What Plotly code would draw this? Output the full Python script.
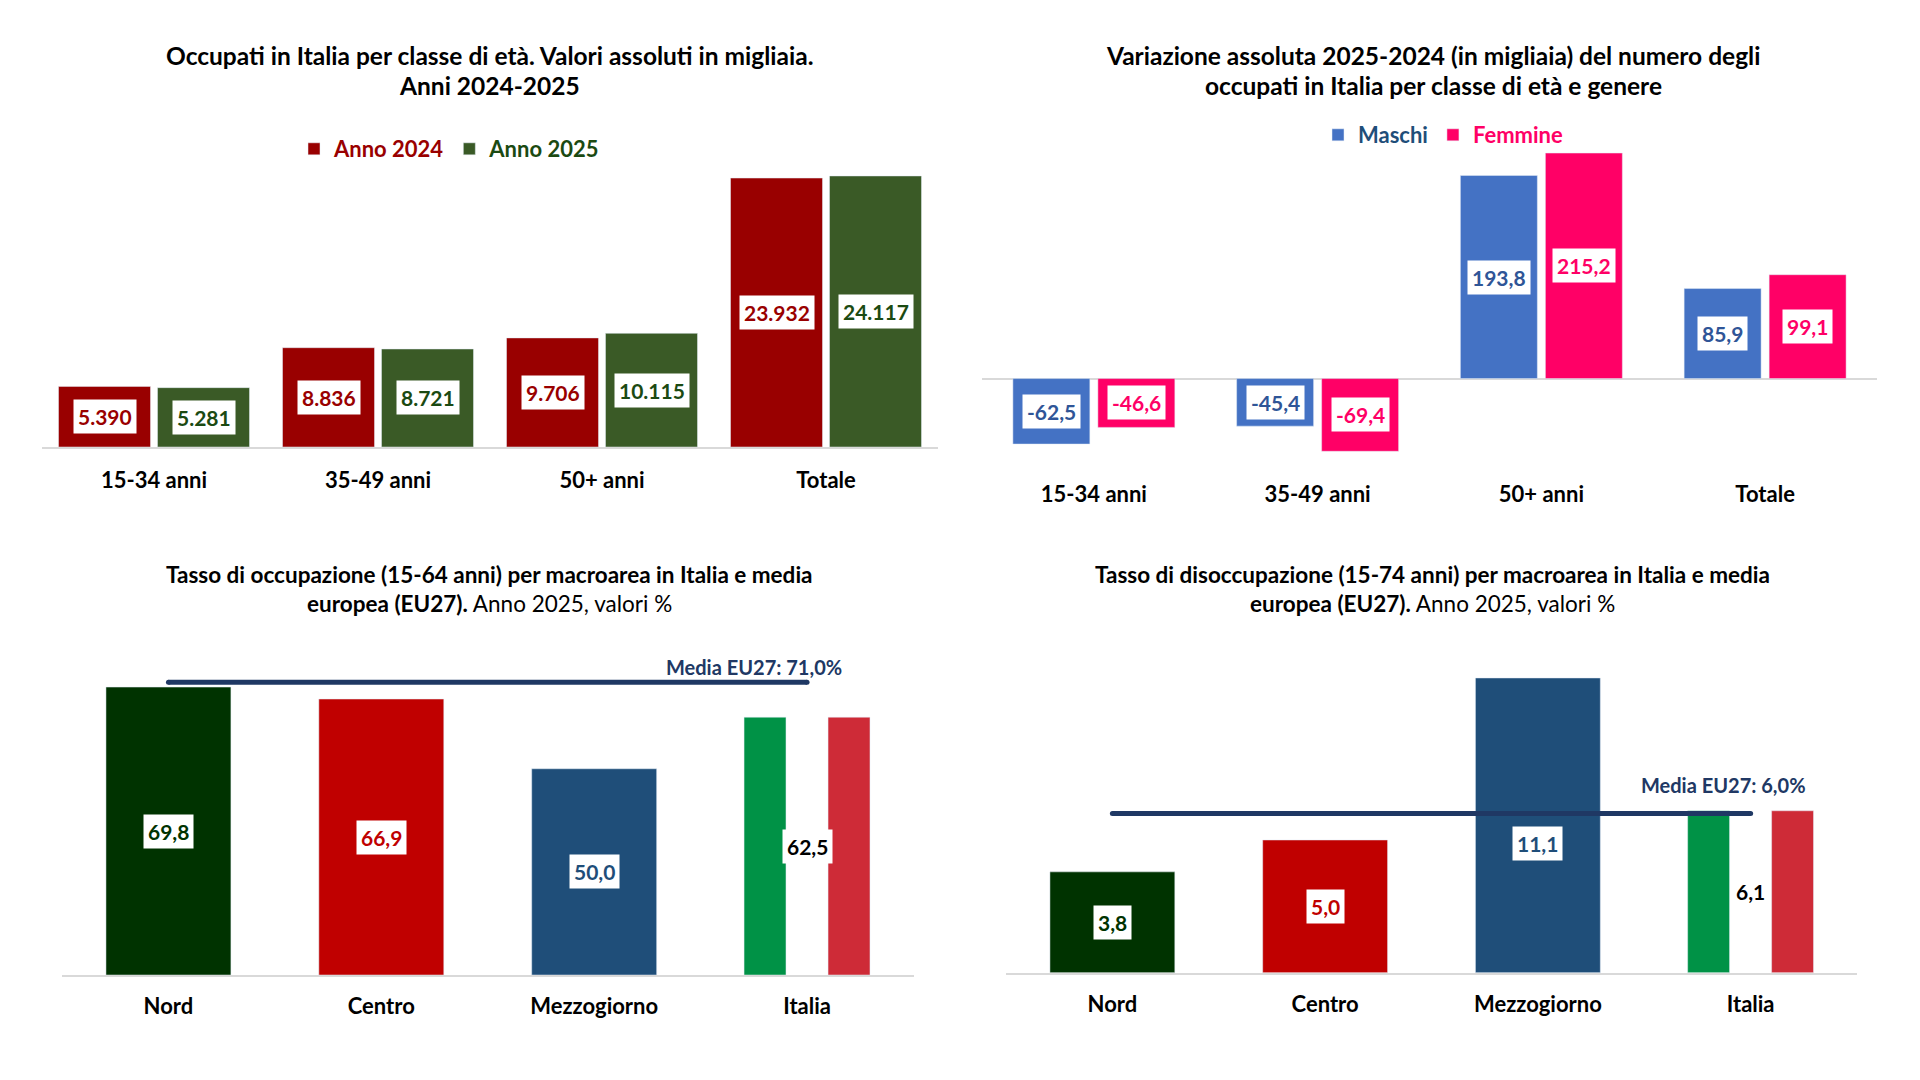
import plotly.graph_objects as go

W, H = 1920, 1080
FONT = "Lato"

# ---------------- data ----------------
eta_cat = ["15-34 anni", "35-49 anni", "50+ anni", "Totale"]
occ_2024 = [5390, 8836, 9706, 23932]
occ_2025 = [5281, 8721, 10115, 24117]

var_maschi = [-62.5, -45.4, 193.8, 85.9]
var_femmine = [-46.6, -69.4, 215.2, 99.1]

aree = ["Nord", "Centro", "Mezzogiorno", "Italia"]
tasso_occ = [69.8, 66.9, 50.0, 62.5]
eu_occ = 71.0
tasso_dis = [3.8, 5.0, 11.1, 6.1]
eu_dis = 6.0

# ---------------- styles ----------------
C2024, C2024_T = "#990000", "#990000"
C2025, C2025_T = "#3A5A26", "#1B4A12"
CM, CM_T = "#4472C4", "#2F5597"
CF, CF_T = "#FF0066", "#FF0066"
C_AREE = ["#003300", "#C00000", "#1F4E79"]
C_AREE_T = ["#003300", "#C00000", "#1F4E79", "#000000"]
C_IT_G, C_IT_R = "#009246", "#CE2B37"
C_EU = "#1F3864"
AXIS_GREY = "#D9D9D9"


def fmt_int(v):
    return f"{v:,}".replace(",", ".")


def fmt_dec(v):
    return f"{v:.1f}".replace(".", ",")


def px_x(p):
    return p / W


def px_y(p):
    return 1 - p / H


fig = go.Figure()

# ---- chart 1: occupati per classe di età ----
fig.add_trace(go.Bar(x=eta_cat, y=occ_2024, offset=-0.4263, width=0.4107,
                     marker_color=C2024, xaxis="x", yaxis="y", legend="legend",
                     name=f"<span style='color:{C2024_T}'>Anno 2024</span>", hoverinfo="skip"))
fig.add_trace(go.Bar(x=eta_cat, y=occ_2025, offset=0.0156, width=0.4107,
                     marker_color=C2025, xaxis="x", yaxis="y", legend="legend",
                     name=f"<span style='color:#1B4A12'>Anno 2025</span>", hoverinfo="skip"))

# ---- chart 2: variazione per genere ----
fig.add_trace(go.Bar(x=eta_cat, y=var_maschi, offset=-0.362, width=0.344,
                     marker_color=CM, xaxis="x2", yaxis="y2", legend="legend2",
                     name="<span style='color:#1F4E79'>Maschi</span>", hoverinfo="skip"))
fig.add_trace(go.Bar(x=eta_cat, y=var_femmine, offset=0.0179, width=0.344,
                     marker_color=CF, xaxis="x2", yaxis="y2", legend="legend2",
                     name=f"<span style='color:{CF_T}'>Femmine</span>", hoverinfo="skip"))

# ---- charts 3 & 4: macroaree ----
for vals, eu, xa, ya in [(tasso_occ, eu_occ, "x3", "y3"), (tasso_dis, eu_dis, "x4", "y4")]:
    fig.add_trace(go.Bar(x=aree[:3], y=vals[:3], offset=-0.2935, width=0.587,
                         marker_color=C_AREE, xaxis=xa, yaxis=ya, showlegend=False,
                         hoverinfo="skip"))
    fig.add_trace(go.Bar(x=[aree[3]], y=[vals[3]], offset=-0.296, width=0.197,
                         marker_color=C_IT_G, xaxis=xa, yaxis=ya, showlegend=False,
                         hoverinfo="skip"))
    fig.add_trace(go.Bar(x=[aree[3]], y=[vals[3]], offset=0.0986, width=0.197,
                         marker_color=C_IT_R, xaxis=xa, yaxis=ya, showlegend=False,
                         hoverinfo="skip"))
    fig.add_trace(go.Scatter(x=[aree[0], aree[-1]], y=[eu, eu], mode="lines+markers",
                             line=dict(color=C_EU, width=5),
                             marker=dict(color=C_EU, size=5),
                             xaxis=xa, yaxis=ya, showlegend=False, hoverinfo="skip",
                             cliponaxis=False))

# ---------------- annotations ----------------
ann = []
LBL = 21


def lbl(x, y, text, color, xref, yref, yshift=0, bg="white"):
    ann.append(dict(x=x, y=y, xref=xref, yref=yref, text=text, showarrow=False,
                    bgcolor=bg, borderpad=4, yshift=yshift,
                    font=dict(family=FONT, size=LBL, color=color, weight="bold")))


for i, v in enumerate(occ_2024):
    lbl(i - 0.221, v / 2, fmt_int(v), C2024_T, "x", "y")
for i, v in enumerate(occ_2025):
    lbl(i + 0.221, v / 2, fmt_int(v), C2025_T, "x", "y")
for i, v in enumerate(var_maschi):
    lbl(i - 0.19, v / 2, fmt_dec(v), CM_T, "x2", "y2")
for i, v in enumerate(var_femmine):
    lbl(i + 0.19, v / 2, fmt_dec(v), CF_T, "x2", "y2")
for i, v in enumerate(tasso_occ):
    lbl(i, v / 2, fmt_dec(v), C_AREE_T[i], "x3", "y3")
shifts4 = [0, 0, -18, 0]
for i, v in enumerate(tasso_dis):
    lbl(i, v / 2, fmt_dec(v), C_AREE_T[i], "x4", "y4", yshift=shifts4[i])

# EU labels
ann.append(dict(x=3 + 0.174, y=eu_occ, xref="x3", yref="y3", xanchor="right",
                yanchor="middle", yshift=15, showarrow=False,
                text=f"Media EU27: {fmt_dec(eu_occ)}%",
                font=dict(family=FONT, size=20, color="#203864", weight="bold")))
ann.append(dict(x=3 + 0.268, y=eu_dis, xref="x4", yref="y4", xanchor="right",
                yanchor="middle", yshift=28, showarrow=False,
                text=f"Media EU27: {fmt_dec(eu_dis)}%",
                font=dict(family=FONT, size=20, color="#203864", weight="bold")))

# titles
titles = [
    ("Occupati in Italia per classe di età. Valori assoluti in migliaia.", 490, 55, True, 24.5),
    ("Anni 2024-2025", 490, 86, True, 24.5),
    ("Variazione assoluta 2025-2024 (in migliaia) del numero degli", 1433, 55, True, 24.5),
    ("occupati in Italia per classe di età e genere", 1433, 86, True, 24.5),
    ("Tasso di occupazione (15-64 anni) per macroarea in Italia e media", 490, 574, True, 22.5),
    ("<b>europea (EU27).</b> Anno 2025, valori %", 490, 603, False, 22.5),
    ("Tasso di disoccupazione (15-74 anni) per macroarea in Italia e media", 1432, 574, True, 22.5),
    ("<b>europea (EU27).</b> Anno 2025, valori %", 1432, 603, False, 22.5),
]
for text, x, y, bold, sz in titles:
    ann.append(dict(x=px_x(x), y=px_y(y), xref="paper", yref="paper", text=text,
                    showarrow=False, xanchor="center", yanchor="middle",
                    font=dict(family=FONT, size=sz, color="#000000",
                              weight="bold" if bold else "normal")))

# ---------------- axes ----------------
tickfont = dict(family=FONT, size=22, color="#000000", weight="bold")


def xax(d0, d1, anchor, showline, ticklen=14):
    return dict(domain=[px_x(d0), px_x(d1)], anchor=anchor, type="category",
                categoryorder="array", range=[-0.5, 3.5], fixedrange=True,
                showline=showline, linecolor=AXIS_GREY, linewidth=2,
                showgrid=False, zeroline=False, ticks="outside", ticklen=ticklen,
                tickcolor="rgba(0,0,0,0)", tickfont=tickfont)


def yax(top, bottom, anchor, rng, zl=False):
    return dict(domain=[px_y(bottom), px_y(top)], anchor=anchor, range=rng,
                showgrid=False, showticklabels=False, ticks="", showline=False,
                zeroline=zl, zerolinecolor=AXIS_GREY, zerolinewidth=2, fixedrange=True)


x1 = xax(42, 938, "y", True, 13); x1["categoryarray"] = eta_cat
x2 = xax(982, 1877, "y2", False, 12); x2["categoryarray"] = eta_cat
x3 = xax(62, 913.5, "y3", True, 11); x3["categoryarray"] = aree
x4 = xax(1006, 1857, "y4", True, 11); x4["categoryarray"] = aree

LEG_FONT = dict(family=FONT, size=22, weight="bold")

fig.update_layout(
    width=W, height=H, autosize=False,
    margin=dict(l=0, r=0, t=0, b=0),
    paper_bgcolor="white", plot_bgcolor="white",
    barmode="overlay",
    font=dict(family=FONT, color="#000000"),
    xaxis=x1, yaxis=yax(154.8, 447, "x", [0, 26000]),
    xaxis2=x2, yaxis2=yax(132.3, 462.4, "x2", [-80, 235], zl=True),
    xaxis3=x3, yaxis3=yax(645, 975, "x3", [0, 80]),
    xaxis4=x4, yaxis4=yax(640.8, 972.8, "x4", [0, 12.5]),
    legend=dict(orientation="h", x=px_x(294), y=px_y(149), xanchor="left",
                yanchor="middle", bgcolor="rgba(0,0,0,0)", itemwidth=30,
                font=LEG_FONT),
    legend2=dict(orientation="h", x=px_x(1318), y=px_y(135), xanchor="left",
                 yanchor="middle", bgcolor="rgba(0,0,0,0)", itemwidth=30,
                 font=LEG_FONT),
    annotations=ann,
    showlegend=True,
)

fig.write_html("out.html", config={"displayModeBar": False})
